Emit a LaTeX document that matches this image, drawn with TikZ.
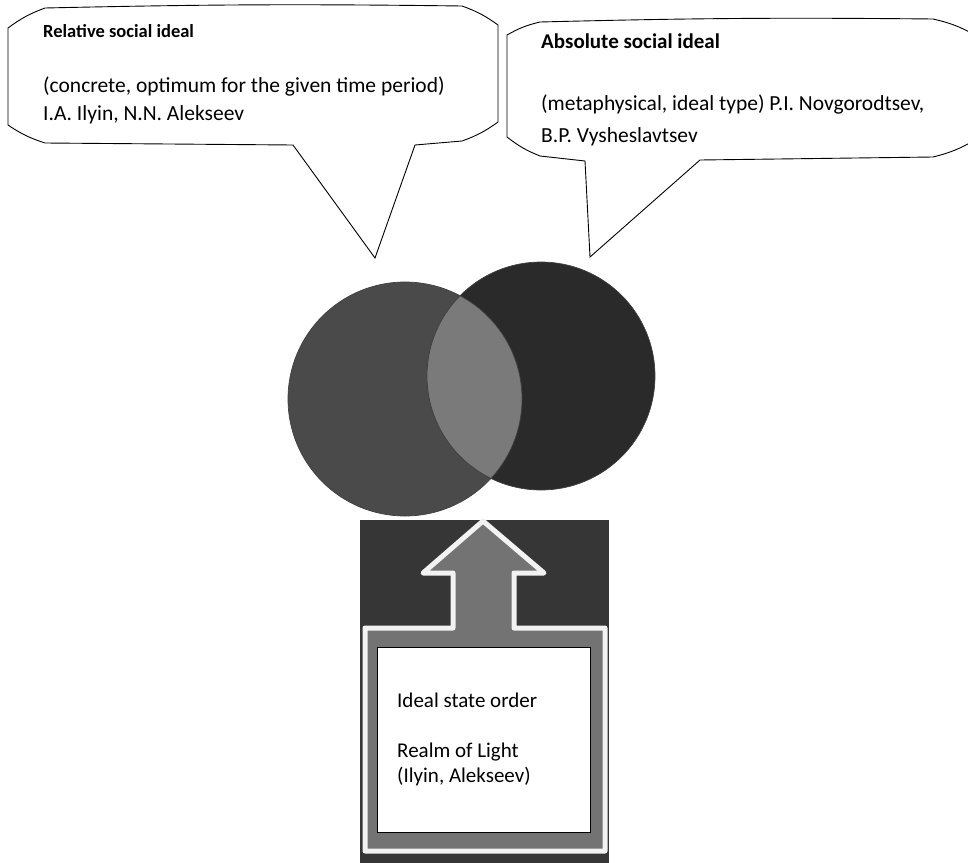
\documentclass[tikz,border=0pt]{standalone}
\usepackage{fontspec}
\setmainfont{Carlito}
\usetikzlibrary{positioning}
\definecolor{leftgrey}{RGB}{74,74,74}
\definecolor{rightgrey}{RGB}{42,42,42}
\definecolor{lensgrey}{RGB}{122,122,122}
\definecolor{panelgrey}{RGB}{54,54,54}
\definecolor{arrowgrey}{RGB}{115,115,115}
\definecolor{rimwhite}{RGB}{242,242,242}
\tikzset{
  bubble/.style={draw=black, fill=white, line width=0.9pt},
  disc/.style={draw=black!75, line width=0.7pt},
  headtext/.style={anchor=base west, inner sep=0pt, font=\bfseries\fontsize{18.5}{20}\selectfont},
  bodytext/.style={anchor=base west, inner sep=0pt, align=left, font=\fontsize{21.5}{28}\selectfont},
}

\begin{document}
\begin{tikzpicture}[x=1pt,y=-1pt]
  \clip (0,0) rectangle (968,862);
  % speech bubbles
  \draw[bubble] (8,28) to[bend left=8] (45,8) to[bend left=1] (462,6) to[bend left=8] (498,25) -- (498,122)
    to[bend left=8] (462,141) -- (415,145) -- (375,258) -- (293,145) -- (45,143) to[bend left=8] (8,125) -- cycle;
  \draw[bubble] (507,35) to[bend left=8] (540,22) to[bend left=1] (933,19) to[bend left=8] (975,35) -- (975,140)
    to[bend left=8] (933,157) -- (700,160) -- (590,257) -- (585,161) -- (540,156) to[bend left=8] (507,137) -- cycle;
  \node[headtext] (relhead) at (43,37) {Relative social ideal};
  \node[bodytext] (relbody) at (43,120) {(concrete, optimum for the given time period)\\I.A. Ilyin, N.N. Alekseev};
  \node[headtext, font=\bfseries\fontsize{21}{22}\selectfont] (abshead) at (541,48) {Absolute social ideal};
  \node[bodytext, font=\fontsize{21.5}{32}\selectfont] (absbody) at (541,142) {(metaphysical, ideal type) P.I. Novgorodtsev,\\B.P. Vysheslavtsev};

  % circles
  \fill[leftgrey] (405,399) circle (117);
  \fill[rightgrey] (541,376) circle (114);
  \begin{scope}
    \clip (405,399) circle (117);
    \fill[lensgrey] (541,376) circle (114);
  \end{scope}
  \draw[disc] (405,399) circle (117);
  \draw[disc] (541,376) circle (114);

  % arrow panel
  \fill[panelgrey] (360,520) rectangle (609,870);
  \draw[line width=5pt, draw=rimwhite, fill=arrowgrey, line join=round]
    (483,521) -- (544,573) -- (514,573) -- (514,628) -- (605,628) -- (605,851)
    -- (365,851) -- (365,628) -- (453,628) -- (453,573) -- (423,573) -- cycle;
  \draw[fill=white, draw=black, line width=0.8pt] (377,647) rectangle (590,832);
  \node[bodytext, font=\fontsize{21}{25}\selectfont] (ordertext) at (397,782) {Ideal state order\\[25pt]Realm of Light\\(Ilyin, Alekseev)};
\end{tikzpicture}
\end{document}
